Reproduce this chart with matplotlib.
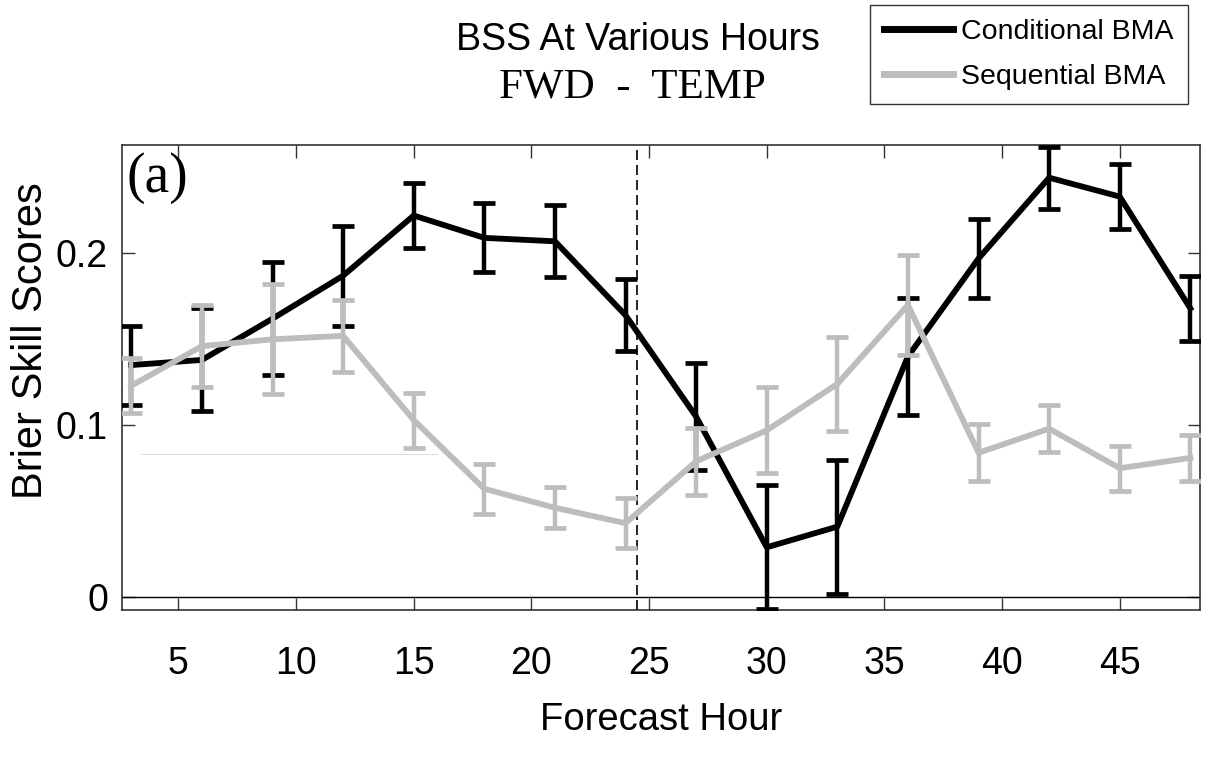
import numpy as np
import matplotlib
matplotlib.use('Agg')
import matplotlib.pyplot as plt

# forecast hours and BSS values
hours = [3, 6, 9, 12, 15, 18, 21, 24, 27, 30, 33, 36, 39, 42, 45, 48]
cond_bss = [0.135, 0.138, 0.162, 0.187, 0.222, 0.209, 0.207, 0.164, 0.105,
            0.029, 0.041, 0.140, 0.197, 0.244, 0.233, 0.168]
cond_err = [0.023, 0.030, 0.033, 0.029, 0.019, 0.020, 0.021, 0.021, 0.031,
            0.036, 0.039, 0.034, 0.023, 0.018, 0.019, 0.019]
seq_bss = [0.123, 0.146, 0.150, 0.152, 0.103, 0.063, 0.052, 0.043, 0.079,
           0.097, 0.124, 0.170, 0.084, 0.098, 0.075, 0.081]
seq_err = [0.016, 0.024, 0.032, 0.021, 0.016, 0.0145, 0.012, 0.0145, 0.0195,
           0.025, 0.0275, 0.029, 0.0165, 0.0135, 0.013, 0.0135]

split_hour = 24.5
# faint stray line in the source image
stray_y = 0.083
stray_x = [3.4, 16.0]

sans = ['Liberation Sans', 'DejaVu Sans']
serif = ['Liberation Serif', 'DejaVu Serif']

fig = plt.figure(figsize=(12.07, 7.61), dpi=100)
ax = fig.add_axes([0.101, 0.1984, 0.893, 0.611])

ax.plot(stray_x, [stray_y, stray_y], color='#dcdcdc', lw=0.8)
ax.axhline(0, color='black', lw=1.0)
ax.axvline(split_hour, color='black', lw=1.2, ls=(0, (6, 3)))

cond = ax.errorbar(hours, cond_bss, yerr=cond_err, color='black', lw=4.2,
                   elinewidth=3.2, capsize=8, capthick=3.4, zorder=3)
seq = ax.errorbar(hours, seq_bss, yerr=seq_err, color='#bdbdbd', lw=4.2,
                  elinewidth=3.2, capsize=8, capthick=3.4, zorder=4)

ax.set_xlim(2.6, 48.4)
ax.set_ylim(-0.0075, 0.263)
ax.set_xticks([5, 10, 15, 20, 25, 30, 35, 40, 45])
ax.set_yticks([0, 0.1, 0.2])
ax.set_yticklabels(['0', '0.1', '0.2'])
ax.tick_params(direction='in', top=True, right=True, length=9, width=1.0,
               colors='#333333', labelcolor='black')
ax.tick_params(axis='x', pad=26, labelsize=27)
ax.tick_params(axis='y', pad=10, labelsize=27)
for lab in ax.get_xticklabels() + ax.get_yticklabels():
    lab.set_family(sans)
for sp in ax.spines.values():
    sp.set_color('#333333')
    sp.set_linewidth(1.2)

ax.set_xlabel('Forecast Hour', family=sans, fontsize=27.5, labelpad=14)
ax.set_ylabel('Brier Skill Scores', family=sans, fontsize=30)
ax.yaxis.set_label_coords(-0.066, 0.58)

ax.text(0.004, 0.985, '(a)', transform=ax.transAxes, family=serif,
        fontsize=40, va='top', ha='left')

fig.text(0.5286, 0.948, 'BSS At Various Hours', family=sans, fontsize=27,
         ha='center', va='center')
fig.text(0.524, 0.886, 'FWD  -  TEMP', family=serif, fontsize=31,
         ha='center', va='center')

leg = fig.legend([cond[0], seq[0]], ['Conditional BMA', 'Sequential BMA'],
                 loc='upper right', bbox_to_anchor=(1188 / 1207, 1 - 5 / 761),
                 prop={'family': sans, 'size': 20.5}, frameon=True,
                 fancybox=False, edgecolor='black', handlelength=2.4,
                 handletextpad=0.3, labelspacing=0.65, borderpad=0.5,
                 borderaxespad=0)
leg.get_frame().set_linewidth(1.0)
for h in leg.get_lines():
    h.set_linewidth(5)

fig.savefig('out.png', dpi=100)
